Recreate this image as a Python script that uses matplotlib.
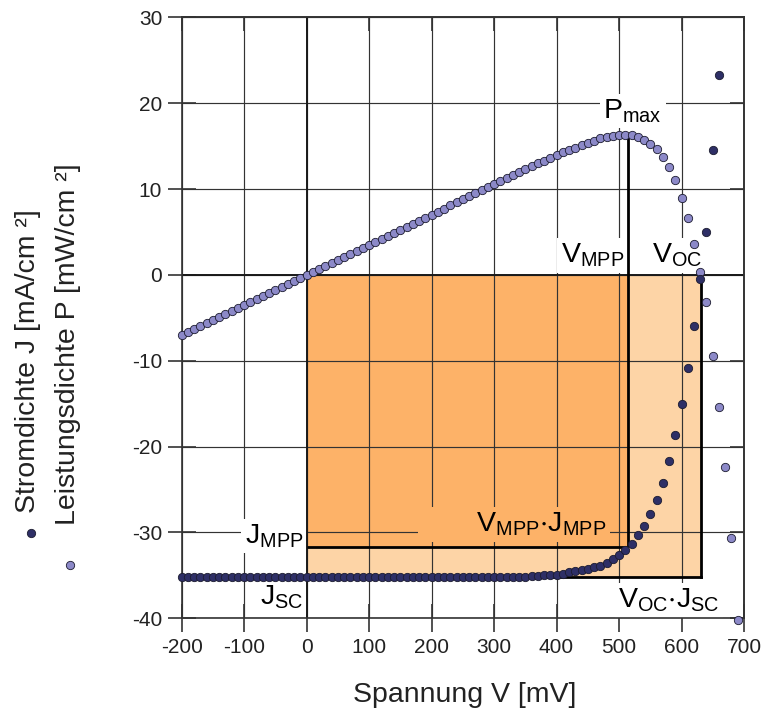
import matplotlib
matplotlib.use("Agg")
import matplotlib.pyplot as plt
from matplotlib.patches import Rectangle
from matplotlib.lines import Line2D

plt.rcParams['font.family'] = ['Liberation Sans', 'DejaVu Sans']

# Voltage sweep of the solar cell (mV)
voltage = list(range(-200, 700, 10))

# Current density J (mA/cm^2) for each voltage step
current_density = [
    -35.2, -35.2, -35.2, -35.2, -35.2, -35.2, -35.2, -35.2, -35.2, -35.2,   # -200 .. -110
    -35.2, -35.2, -35.2, -35.2, -35.2, -35.2, -35.2, -35.2, -35.2, -35.2,   # -100 .. -10
    -35.2, -35.2, -35.2, -35.2, -35.2, -35.2, -35.2, -35.2, -35.2, -35.2,   #    0 .. 90
    -35.2, -35.2, -35.2, -35.2, -35.2, -35.2, -35.2, -35.2, -35.2, -35.2,   #  100 .. 190
    -35.2, -35.2, -35.2, -35.2, -35.2, -35.2, -35.2, -35.2, -35.2, -35.2,   #  200 .. 290
    -35.2, -35.2, -35.2, -35.2, -35.2, -35.2, -35.1, -35.1, -35.0, -35.0,   #  300 .. 390
    -34.9, -34.8, -34.6, -34.5, -34.4, -34.2, -34.0, -33.9, -33.5, -33.1,   #  400 .. 490
    -32.6, -32.0, -31.3, -30.3, -29.2, -27.8, -26.2, -24.2, -21.7, -18.7,   #  500 .. 590
    -15.0, -10.8, -5.9, -0.5, 5.0, 14.6, 23.3, 33.4, 45.0, 58.3,            #  600 .. 690
]

# Power density P (mW/cm^2) for each voltage step
power_density = [
    -7.04, -6.69, -6.34, -5.98, -5.63, -5.28, -4.93, -4.58, -4.22, -3.87,
    -3.52, -3.17, -2.82, -2.46, -2.11, -1.76, -1.41, -1.06, -0.70, -0.35,
    0.00, 0.35, 0.70, 1.06, 1.41, 1.76, 2.11, 2.46, 2.82, 3.17,
    3.52, 3.87, 4.22, 4.58, 4.93, 5.28, 5.63, 5.98, 6.34, 6.69,
    7.04, 7.39, 7.74, 8.10, 8.45, 8.80, 9.15, 9.50, 9.86, 10.21,
    10.56, 10.91, 11.26, 11.62, 11.97, 12.32, 12.64, 12.99, 13.30, 13.65,
    13.96, 14.27, 14.53, 14.84, 15.14, 15.39, 15.64, 15.93, 16.08, 16.22,
    16.30, 16.32, 16.28, 16.06, 15.77, 15.29, 14.67, 13.79, 12.59, 11.03,
    9.00, 6.59, 3.66, 0.32, -3.20, -9.49, -15.38, -22.38, -30.60, -40.23,
]

# Characteristic operating points
V_OC = 632      # open-circuit voltage (mV)
J_SC = -35.2    # short-circuit current density (mA/cm^2)
V_MPP = 514     # voltage at maximum power point (mV)
J_MPP = -31.7   # current density at maximum power point (mA/cm^2)
P_MAX = 16.4    # maximum power density (mW/cm^2)

x_ticks = [-200, -100, 0, 100, 200, 300, 400, 500, 600, 700]
y_ticks = [-40, -30, -20, -10, 0, 10, 20, 30]

C_J = '#2e2f66'
C_P = '#8c89c8'
C_EDGE = '#1c1c30'
C_FILL_DARK = '#fdb268'
C_FILL_LIGHT = '#fdd4a6'
C_GRID = '#333333'
LABEL_FS = 20.5

fig = plt.figure(figsize=(7.64, 7.08), dpi=100)
ax = fig.add_axes([0.2378, 0.1267, 0.736, 0.8486])
ax.set_xlim(x_ticks[0], x_ticks[-1])
ax.set_ylim(y_ticks[0], y_ticks[-1])
ax.set_axisbelow('line')

# Areas V_OC*J_SC and V_MPP*J_MPP
ax.add_patch(Rectangle((0, J_SC), V_OC, -J_SC, facecolor=C_FILL_LIGHT,
                       edgecolor='none', zorder=1))
ax.add_patch(Rectangle((0, J_MPP), V_MPP, -J_MPP, facecolor=C_FILL_DARK,
                       edgecolor='none', zorder=1.1))

# Grid
ax.set_xticks(x_ticks)
ax.set_yticks(y_ticks)
ax.set_xticklabels([str(t) for t in x_ticks])
ax.set_yticklabels([str(t) for t in y_ticks])
ax.grid(True, color=C_GRID, linewidth=0.85)

# Zero axes
ax.axhline(0, color='#1a1a1a', linewidth=1.4, zorder=3.4)
ax.axvline(0, color='#1a1a1a', linewidth=1.4, zorder=3.4)

# Outline lines of the operating points
lw = 2.0
ax.plot([V_MPP, V_MPP], [P_MAX, J_MPP], color='black', linewidth=lw, zorder=3.5,
        solid_capstyle='butt')
ax.plot([0, V_MPP], [J_MPP, J_MPP], color='black', linewidth=lw, zorder=3.5,
        solid_capstyle='butt')
ax.plot([V_OC, V_OC], [0, J_SC], color='black', linewidth=lw, zorder=3.5,
        solid_capstyle='projecting')
ax.plot([0, V_OC], [J_SC, J_SC], color='black', linewidth=lw, zorder=3.5,
        solid_capstyle='projecting')

# Data points (not clipped, so the points on the frame stay whole)
ms = 6.0
ax.plot(voltage, power_density, linestyle='none', marker='o', markersize=ms,
        markerfacecolor=C_P, markeredgecolor=C_EDGE, markeredgewidth=0.6,
        zorder=5, clip_on=False)
ax.plot(voltage, current_density, linestyle='none', marker='o', markersize=ms,
        markerfacecolor=C_J, markeredgecolor=C_EDGE, markeredgewidth=0.6,
        zorder=5, clip_on=False)

# Annotations
def label(x, y, s, ha, fc='white'):
    ax.text(x, y, s, ha=ha, va='baseline', fontsize=LABEL_FS, color='black',
            zorder=3, bbox=dict(boxstyle='square,pad=0.12', facecolor=fc,
                                edgecolor='none'))

label(522, 18.26, r'$\mathregular{P_{max}}$', 'center')
label(508, 1.43, r'$\mathregular{V_{MPP}}$', 'right')
label(552, 1.43, r'$\mathregular{V_{OC}}$', 'left')
label(-5, -31.27, r'$\mathregular{J_{MPP}}$', 'right')
label(-5, -38.35, r'$\mathregular{J_{SC}}$', 'right')
label(480, -29.92, '       ' + r'$\mathregular{V_{MPP}{\cdot}J_{MPP}}$', 'right',
      fc=C_FILL_DARK)
label(498.7, -38.78, r'$\mathregular{V_{OC}{\cdot}J_{SC}}$', 'left')

# Axes styling
for sp in ax.spines.values():
    sp.set_color('#333333')
    sp.set_linewidth(1.2)
    sp.set_zorder(3.6)
ax.tick_params(axis='both', direction='inout', length=20, width=1.2,
               color='#333333', labelsize=15, labelcolor='#222222', pad=4)

secx = ax.secondary_xaxis('top')
secx.set_xticks(x_ticks)
secx.tick_params(direction='in', length=10, width=1.2, color='#333333',
                 labeltop=False, labelbottom=False)
secy = ax.secondary_yaxis('right')
secy.set_yticks(y_ticks)
secy.tick_params(direction='in', length=10, width=1.2, color='#333333',
                 labelright=False, labelleft=False)
for sec in (secx, secy):
    for sp in sec.spines.values():
        sp.set_color('#333333')
        sp.set_linewidth(1.2)

# Axis titles
fig.text(465 / 764, 6 / 708, 'Spannung V [mV]', ha='center', va='baseline',
         fontsize=LABEL_FS, color='#222222')
fig.text(28 / 764, (708 - 513) / 708, 'Stromdichte J [mA/cm ²]', rotation=90,
         ha='center', va='bottom', fontsize=LABEL_FS, color='#222222')
fig.text(68 / 764, (708 - 525) / 708, 'Leistungsdichte P [mW/cm ²]', rotation=90,
         ha='center', va='bottom', fontsize=LABEL_FS, color='#222222')

# Legend markers next to the axis titles
fig.add_artist(Line2D([30.7 / 764], [(708 - 533) / 708], transform=fig.transFigure,
                      marker='o', markersize=ms, linestyle='none',
                      markerfacecolor=C_J, markeredgecolor=C_EDGE, markeredgewidth=0.6))
fig.add_artist(Line2D([70 / 764], [(708 - 565) / 708], transform=fig.transFigure,
                      marker='o', markersize=ms, linestyle='none',
                      markerfacecolor=C_P, markeredgecolor=C_EDGE, markeredgewidth=0.6))

fig.savefig('out.png', dpi=100)
